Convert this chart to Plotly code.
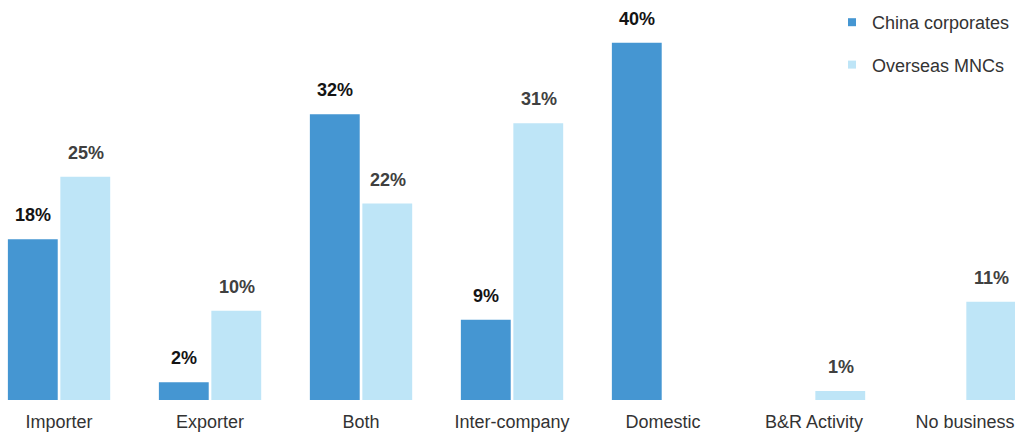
import plotly.graph_objects as go

categories = ["Importer", "Exporter", "Both", "Inter-company", "Domestic", "B&R Activity", "No business"]
china_corporates = [18, 2, 32, 9, 40, 0, 0]
overseas_mncs = [25, 10, 22, 31, 0, 1, 11]

series = [
    ("China corporates", china_corporates, "#4596D2", "#141414", -26.5),
    ("Overseas MNCs", overseas_mncs, "#BEE5F7", "#404040", 26.5),
]

FONT = "Liberation Sans, Arial, sans-serif"

fig = go.Figure()
annotations = []
for name, vals, color, label_color, shift in series:
    fig.add_trace(go.Bar(
        x=categories, y=vals, name=name, showlegend=False,
        marker=dict(color=color, line=dict(width=0)),
        hoverinfo="x+y",
    ))
    # legend entry with a small square marker
    fig.add_trace(go.Scatter(
        x=[None], y=[None], mode="markers", name=name,
        marker=dict(symbol="square", size=8, color=color),
        legendgroup=name,
    ))
    for cat, v in zip(categories, vals):
        if v > 0:
            annotations.append(dict(
                x=cat, y=v, xref="x", yref="y", text=f"<b>{v}%</b>",
                showarrow=False, yanchor="bottom", xanchor="center",
                xshift=shift, yshift=12,
                font=dict(family=FONT, size=18, color=label_color),
            ))

fig.update_layout(
    width=1015, height=434,
    margin=dict(l=0, r=0, t=0, b=34),
    paper_bgcolor="white", plot_bgcolor="white",
    barmode="group", bargap=0.305, bargroupgap=0.05,
    font=dict(family=FONT, size=18, color="#333333"),
    xaxis=dict(
        type="category", range=[-0.391, 6.331],
        showgrid=False, zeroline=False, showline=False, ticks="",
        ticklabelstandoff=9,
        tickfont=dict(family=FONT, size=18, color="#333333"),
    ),
    yaxis=dict(range=[0, 44.8], visible=False, fixedrange=True),
    legend=dict(
        x=0.820, y=0.99, xanchor="left", yanchor="top",
        font=dict(family=FONT, size=18, color="#333333"),
        tracegroupgap=16, itemwidth=30, bgcolor="rgba(0,0,0,0)",
    ),
    annotations=annotations,
    showlegend=True,
)

fig.write_html("out.html")
